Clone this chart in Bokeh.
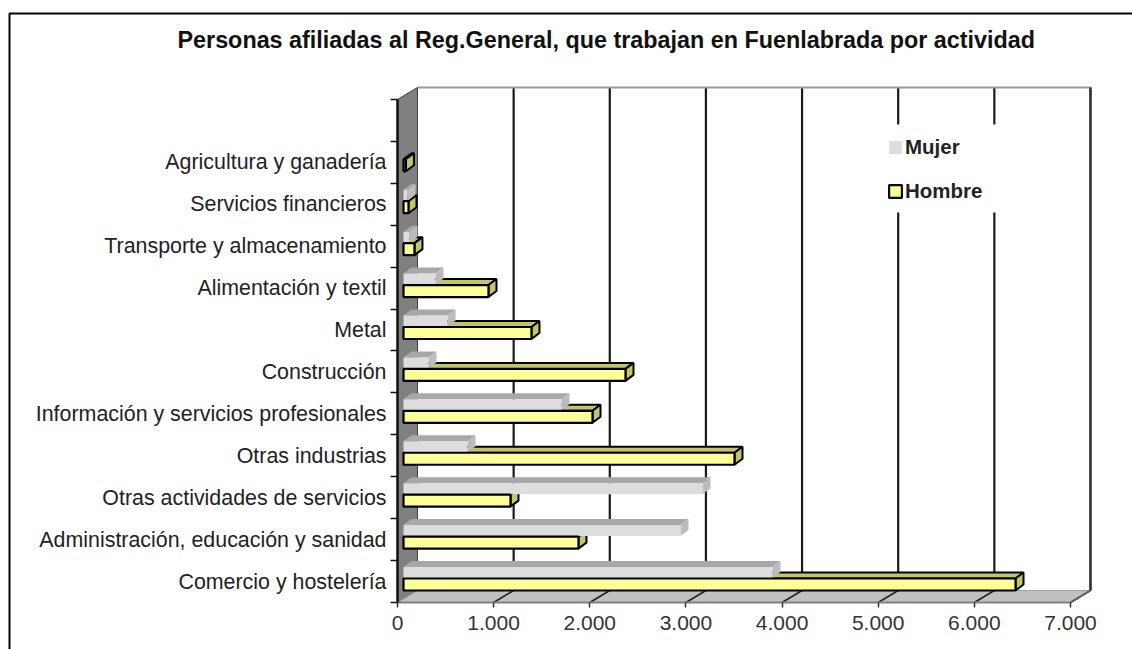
from bokeh.embed import file_html
from bokeh.resources import INLINE
from bokeh.plotting import figure
from bokeh.models import FixedTicker, Legend, LegendItem, Label, Range1d

title = "Personas afiliadas al Reg.General, que trabajan en Fuenlabrada por actividad"
categories = ["Comercio y hostelería", "Administración, educación y sanidad",
              "Otras actividades de servicios", "Otras industrias",
              "Información y servicios profesionales", "Construcción", "Metal",
              "Alimentación y textil", "Transporte y almacenamiento",
              "Servicios financieros", "Agricultura y ganadería"]
hombre = [6366, 1820, 1113, 3443, 1966, 2309, 1331, 884, 114, 52, 25]
mujer = [3838, 2881, 3110, 666, 1643, 260, 458, 333, 62, 42, 0]
xticks = [0, 1000, 2000, 3000, 4000, 5000, 6000, 7000]
xtick_labels = ["0", "1.000", "2.000", "3.000", "4.000", "5.000", "6.000", "7.000"]
series_names = ["Mujer", "Hombre"]

FONT = "Liberation Sans"
W, H = 1132, 649
OX, OY = 397, 602        # page position of the value/category origin
ORG = 0                  # page offset of the canvas
PX_X = 96.14 / 1000      # px per value
PX_Y = 41.92             # px per category

def fx(px):
    return (px - OX) / PX_X

def fy(py):
    return (OY - py) / PX_Y

xr = Range1d(fx(ORG), fx(ORG + W))
yr = Range1d(fy(ORG + H), fy(ORG))
p = figure(width=W, height=H, x_range=xr, y_range=yr, output_backend="svg", toolbar_location=None,
           min_border=0, background_fill_color="white", border_fill_color="white")
p.outline_line_color = None
p.grid.visible = False

# chart frame: only top and left edges fall on the page
p.line([fx(9), fx(9), fx(1300)], [fy(900), fy(13), fy(13)], line_color="black", line_width=2)

# title
p.add_layout(Label(x=fx(177), y=fy(39), text=title, text_font=FONT, text_font_size="23.35px",
                   text_font_style="bold", text_color="#111111", text_baseline="middle"))

# 3D geometry of the walls, in data units
DX = 20 / PX_X
DY = 12 / PX_Y
xmax, ymax = xticks[-1], len(categories) + 1

p.patch([0, DX, DX, 0], [0, DY, ymax + DY, ymax], fill_color="#808080", line_color="#404040", line_width=1)
p.patch([0, DX, xmax + DX, xmax], [0, DY, DY, 0], fill_color="#c0c0c0", line_color="#a0a0a0", line_width=1)

# back wall grid lines and floor lines
p.segment([t + DX for t in xticks[1:]], [DY] * 7, [t + DX for t in xticks[1:]], [ymax + DY] * 7,
          line_color="#1a1a1a", line_width=2.2)
p.segment(xticks[1:], [0] * 7, [t + DX for t in xticks[1:]], [DY] * 7, line_color="#202020", line_width=1.5)
p.line([DX, xmax + DX], [ymax + DY, ymax + DY], line_color="#999999", line_width=2)
p.line([xmax + DX, xmax + DX], [DY, ymax + DY], line_color="#333333", line_width=2)
p.line([xmax, xmax + DX], [0, DY], line_color="#666666", line_width=1.5)

# white panel the legend sits on: it interrupts the grid lines
p.quad(left=[fx(880)], right=[fx(1000)], bottom=[fy(212)], top=[fy(124)], fill_color="white", line_color=None)

# bars
X0 = 6 / PX_X
BX = 8 / PX_X
BY = 6 / PX_Y
hb, ht = 12 / PX_Y, 24 / PX_Y     # hombre front face, above category base
mb, mt = 24.5 / PX_Y, 35.5 / PX_Y # mujer front face

def top_face(values, b, t):
    keep = [i for i, v in enumerate(values) if v > 0]
    return ([[X0, X0 + BX, X0 + values[i] + BX, X0 + values[i]] for i in keep],
            [[i + t, i + t + BY, i + t + BY, i + t] for i in keep])

def side_face(values, b, t):
    keep = [i for i, v in enumerate(values) if v > 0]
    return ([[X0 + values[i], X0 + values[i] + BX, X0 + values[i] + BX, X0 + values[i]] for i in keep],
            [[i + b, i + b + BY, i + t + BY, i + t] for i in keep])

idx = range(len(categories))
xs, ys = top_face(hombre, hb, ht)
p.patches(xs, ys, fill_color="#c4c46c", line_color="black", line_width=2)
xs, ys = side_face(hombre, hb, ht)
p.patches(xs, ys, fill_color="#c4c46c", line_color="black", line_width=2)

xs, ys = top_face(mujer, mb, mt)
p.patches(xs, ys, fill_color="#a8a8a8", line_color=None)
xs, ys = side_face(mujer, mb, mt)
p.patches(xs, ys, fill_color="#bcbcbc", line_color=None)
r_m = p.quad(left=[X0] * len(mujer), right=[X0 + v for v in mujer], bottom=[i + mb for i in idx],
             top=[i + mt for i in idx], fill_color="#dddddd", line_color=None)
r_h = p.quad(left=[X0] * len(hombre), right=[X0 + v for v in hombre], bottom=[i + hb for i in idx],
             top=[i + ht for i in idx], fill_color="#ffff99", line_color="black", line_width=2.2)

# axes
xa = p.xaxis[0]
xa.fixed_location = 0
xa.ticker = FixedTicker(ticks=xticks)
xa.major_label_overrides = dict(zip(xticks, xtick_labels))
xa.bounds = (0, xmax)
xa.axis_line_color = "#808080"
xa.axis_line_width = 2
xa.major_tick_line_color = "#333333"
xa.major_tick_line_width = 1.5
xa.major_tick_in = 0
xa.major_tick_out = 5
xa.minor_tick_line_color = None
xa.major_label_text_font = FONT
xa.major_label_text_font_size = "21px"
xa.major_label_text_color = "#333333"
xa.major_label_standoff = 8

ya = p.yaxis[0]
ya.fixed_location = 0
centers = [i + 0.5 for i in idx]
ya.ticker = FixedTicker(ticks=centers, minor_ticks=list(range(len(categories) + 2)))
ya.major_label_overrides = dict(zip(centers, categories))
ya.bounds = (0, ymax)
ya.axis_line_color = "#111111"
ya.axis_line_width = 2.5
ya.major_tick_line_color = None
ya.major_tick_in = 0
ya.major_tick_out = 0
ya.minor_tick_line_color = "#111111"
ya.minor_tick_line_width = 1.5
ya.minor_tick_in = 0
ya.minor_tick_out = 7
ya.major_label_text_font = FONT
ya.major_label_text_font_size = "21.4px"
ya.major_label_text_color = "#222222"
ya.major_label_standoff = 4

legend = Legend(items=[LegendItem(label=series_names[0], renderers=[r_m]),
                       LegendItem(label=series_names[1], renderers=[r_h])],
                location=(887, 446), background_fill_alpha=0,
                border_line_color=None, glyph_width=16, glyph_height=16, label_height=16,
                spacing=20, padding=15, margin=0, label_standoff=2,
                label_text_font=FONT, label_text_font_size="20.5px", label_text_font_style="bold",
                label_text_color="#222222")
p.add_layout(legend)

open("out.html", "w").write(file_html(p, INLINE))
